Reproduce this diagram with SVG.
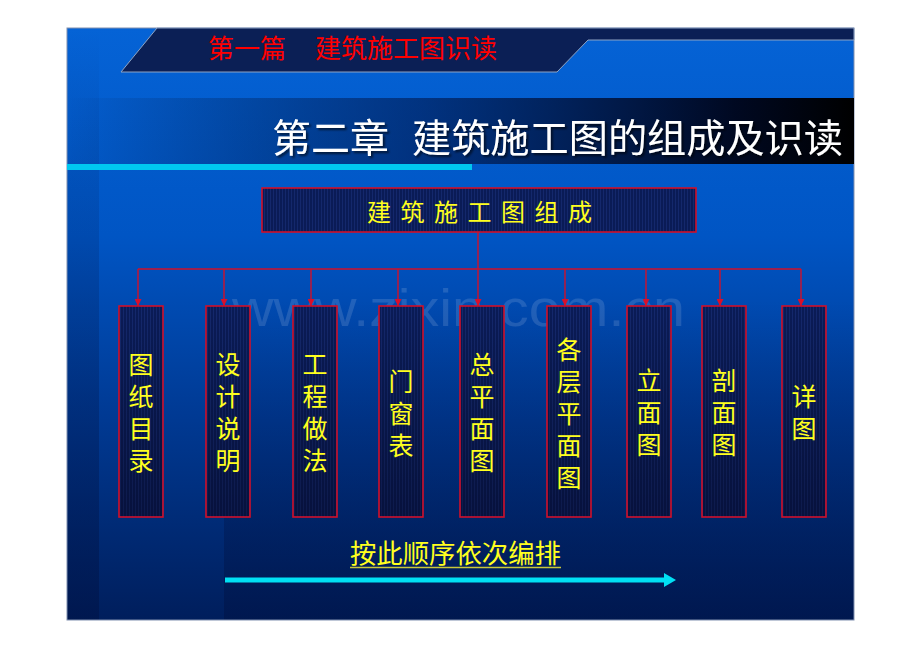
<svg xmlns="http://www.w3.org/2000/svg" width="920" height="651" viewBox="0 0 920 651">
<defs>
<linearGradient id="bg" x1="0" y1="0" x2="0" y2="1">
<stop offset="0" stop-color="#0563d6"/>
<stop offset="0.35" stop-color="#0055c4"/>
<stop offset="0.65" stop-color="#003a94"/>
<stop offset="1" stop-color="#001e5c"/>
</linearGradient>
<linearGradient id="darkDown" x1="0" y1="0" x2="0" y2="1">
<stop offset="0" stop-color="#001040" stop-opacity="0"/>
<stop offset="1" stop-color="#001040" stop-opacity="0.45"/>
</linearGradient>
<linearGradient id="band" x1="0" y1="0" x2="1" y2="0">
<stop offset="0" stop-color="#000820" stop-opacity="0"/>
<stop offset="0.45" stop-color="#001040" stop-opacity="0.55"/>
<stop offset="0.85" stop-color="#000418" stop-opacity="0.95"/>
<stop offset="1" stop-color="#000000"/>
</linearGradient>
<pattern id="stripes" width="3" height="10" patternUnits="userSpaceOnUse">
<rect width="3" height="10" fill="#0a1b56"/>
<rect width="1" height="10" fill="#14286c"/>
</pattern>
<linearGradient id="boxShade" x1="0" y1="0" x2="0" y2="1">
<stop offset="0" stop-color="#000000" stop-opacity="0"/>
<stop offset="1" stop-color="#000010" stop-opacity="0.35"/>
</linearGradient>
<marker id="arr" viewBox="0 0 10 10" refX="10" refY="5" markerWidth="7" markerHeight="7" orient="auto" markerUnits="userSpaceOnUse">
<path d="M0,0 L10,5 L0,10 z" fill="#d8102c"/>
</marker>
<filter id="shadow" x="-5%" y="-20%" width="110%" height="140%">
<feDropShadow dx="2" dy="2" stdDeviation="0.8" flood-color="#000" flood-opacity="0.6"/>
</filter>
</defs>
<style>
.cjk{font-family:"Noto Sans CJK SC","Noto Sans CJK JP",sans-serif;}
.box{fill:url(#stripes);stroke:#d0102a;stroke-width:1.6;}
.shade{fill:url(#boxShade);}
.lbl{font-size:25px;fill:#ffff1e;text-anchor:middle;writing-mode:vertical-rl;letter-spacing:7px;}
.conn{fill:none;stroke:#d0102a;stroke-width:1.4;}
</style>
<rect width="920" height="651" fill="#ffffff"/>
<!-- slide background -->
<rect x="67" y="28" width="787" height="592" fill="url(#bg)"/>
<rect x="67" y="28" width="32" height="592" fill="url(#darkDown)"/>
<rect x="224" y="300" width="630" height="320" fill="url(#darkDown)"/>
<rect x="67" y="28" width="787" height="592" fill="none" stroke="#8090b0" stroke-width="1"/>
<!-- top banner -->
<path d="M157,28 L854,28 L854,40 L588,40 L557,72 L121,72 Z" fill="#0b1f55" stroke="#8ea3c4" stroke-width="1"/>
<text class="cjk" font-size="26" fill="#ff0000" y="58"><tspan x="208">第一篇</tspan><tspan x="315">建筑施工图识读</tspan></text>
<!-- title band -->
<rect x="67" y="98" width="787" height="66" fill="url(#band)"/>
<rect x="67" y="164" width="405" height="6" fill="#00c8f0"/>
<text class="cjk" font-size="39" fill="#ffffff" y="152" filter="url(#shadow)"><tspan x="272">第二章</tspan><tspan x="412" textLength="431" lengthAdjust="spacingAndGlyphs">建筑施工图的组成及识读</tspan></text>
<!-- watermark -->
<text x="232" y="326" font-family="Liberation Sans, Arial, sans-serif" font-size="52" fill="#ffffff" fill-opacity="0.13" textLength="453" lengthAdjust="spacingAndGlyphs">www.zixin.com.cn</text>
<!-- connectors -->
<g id="connectors">
<line class="conn" x1="478" y1="232" x2="478" y2="269"/>
<line class="conn" x1="138" y1="269" x2="801" y2="269"/>
<line class="conn" x1="138" y1="269" x2="138" y2="306" marker-end="url(#arr)"/>
<line class="conn" x1="224" y1="269" x2="224" y2="306" marker-end="url(#arr)"/>
<line class="conn" x1="311" y1="269" x2="311" y2="306" marker-end="url(#arr)"/>
<line class="conn" x1="398" y1="269" x2="398" y2="306" marker-end="url(#arr)"/>
<line class="conn" x1="478" y1="269" x2="478" y2="306" marker-end="url(#arr)"/>
<line class="conn" x1="565" y1="269" x2="565" y2="306" marker-end="url(#arr)"/>
<line class="conn" x1="646" y1="269" x2="646" y2="306" marker-end="url(#arr)"/>
<line class="conn" x1="720" y1="269" x2="720" y2="306" marker-end="url(#arr)"/>
<line class="conn" x1="801" y1="269" x2="801" y2="306" marker-end="url(#arr)"/>
</g>
<!-- root node -->
<g id="root">
<rect class="box" x="262" y="188" width="434" height="44"/>
<text class="cjk" font-size="24" fill="#ffff1e" y="221"><tspan x="367">建</tspan><tspan x="400.5">筑</tspan><tspan x="434">施</tspan><tspan x="467.5">工</tspan><tspan x="501">图</tspan><tspan x="534.5">组</tspan><tspan x="568">成</tspan></text>
</g>
<g id="n1">
<rect class="box" x="119" y="306" width="44" height="211"/><rect class="shade" x="120" y="307" width="42" height="209"/>
<text class="cjk lbl" x="141" y="415.5">图纸目录</text>
</g>
<g id="n2">
<rect class="box" x="206" y="306" width="44" height="211"/><rect class="shade" x="207" y="307" width="42" height="209"/>
<text class="cjk lbl" x="228" y="415.5">设计说明</text>
</g>
<g id="n3">
<rect class="box" x="293" y="306" width="44" height="211"/><rect class="shade" x="294" y="307" width="42" height="209"/>
<text class="cjk lbl" x="315" y="415.5">工程做法</text>
</g>
<g id="n4">
<rect class="box" x="379" y="306" width="44" height="211"/><rect class="shade" x="380" y="307" width="42" height="209"/>
<text class="cjk lbl" x="401" y="416.5">门窗表</text>
</g>
<g id="n5">
<rect class="box" x="460" y="306" width="44" height="211"/><rect class="shade" x="461" y="307" width="42" height="209"/>
<text class="cjk lbl" x="482" y="415.5">总平面图</text>
</g>
<g id="n6">
<rect class="box" x="547" y="306" width="44" height="211"/><rect class="shade" x="548" y="307" width="42" height="209"/>
<text class="cjk lbl" x="569" y="416.5">各层平面图</text>
</g>
<g id="n7">
<rect class="box" x="627" y="306" width="44" height="211"/><rect class="shade" x="628" y="307" width="42" height="209"/>
<text class="cjk lbl" x="649" y="416">立面图</text>
</g>
<g id="n8">
<rect class="box" x="702" y="306" width="44" height="211"/><rect class="shade" x="703" y="307" width="42" height="209"/>
<text class="cjk lbl" x="724" y="416">剖面图</text>
</g>
<g id="n9">
<rect class="box" x="782" y="306" width="44" height="211"/><rect class="shade" x="783" y="307" width="42" height="209"/>
<text class="cjk lbl" x="804" y="415.5">详图</text>
</g>
<!-- order note -->
<g id="order">
<text class="cjk" font-size="26" fill="#ffff1e" x="350" y="563" textLength="211" lengthAdjust="spacingAndGlyphs">按此顺序依次编排</text>
<line x1="350" y1="567.5" x2="561" y2="567.5" stroke="#c8c83a" stroke-width="1.6"/>
<line x1="225" y1="580" x2="666" y2="580" stroke="#00e0f4" stroke-width="5"/>
<path d="M664,573 L676,580 L664,587 Z" fill="#00e0f4"/>
</g>
</svg>
